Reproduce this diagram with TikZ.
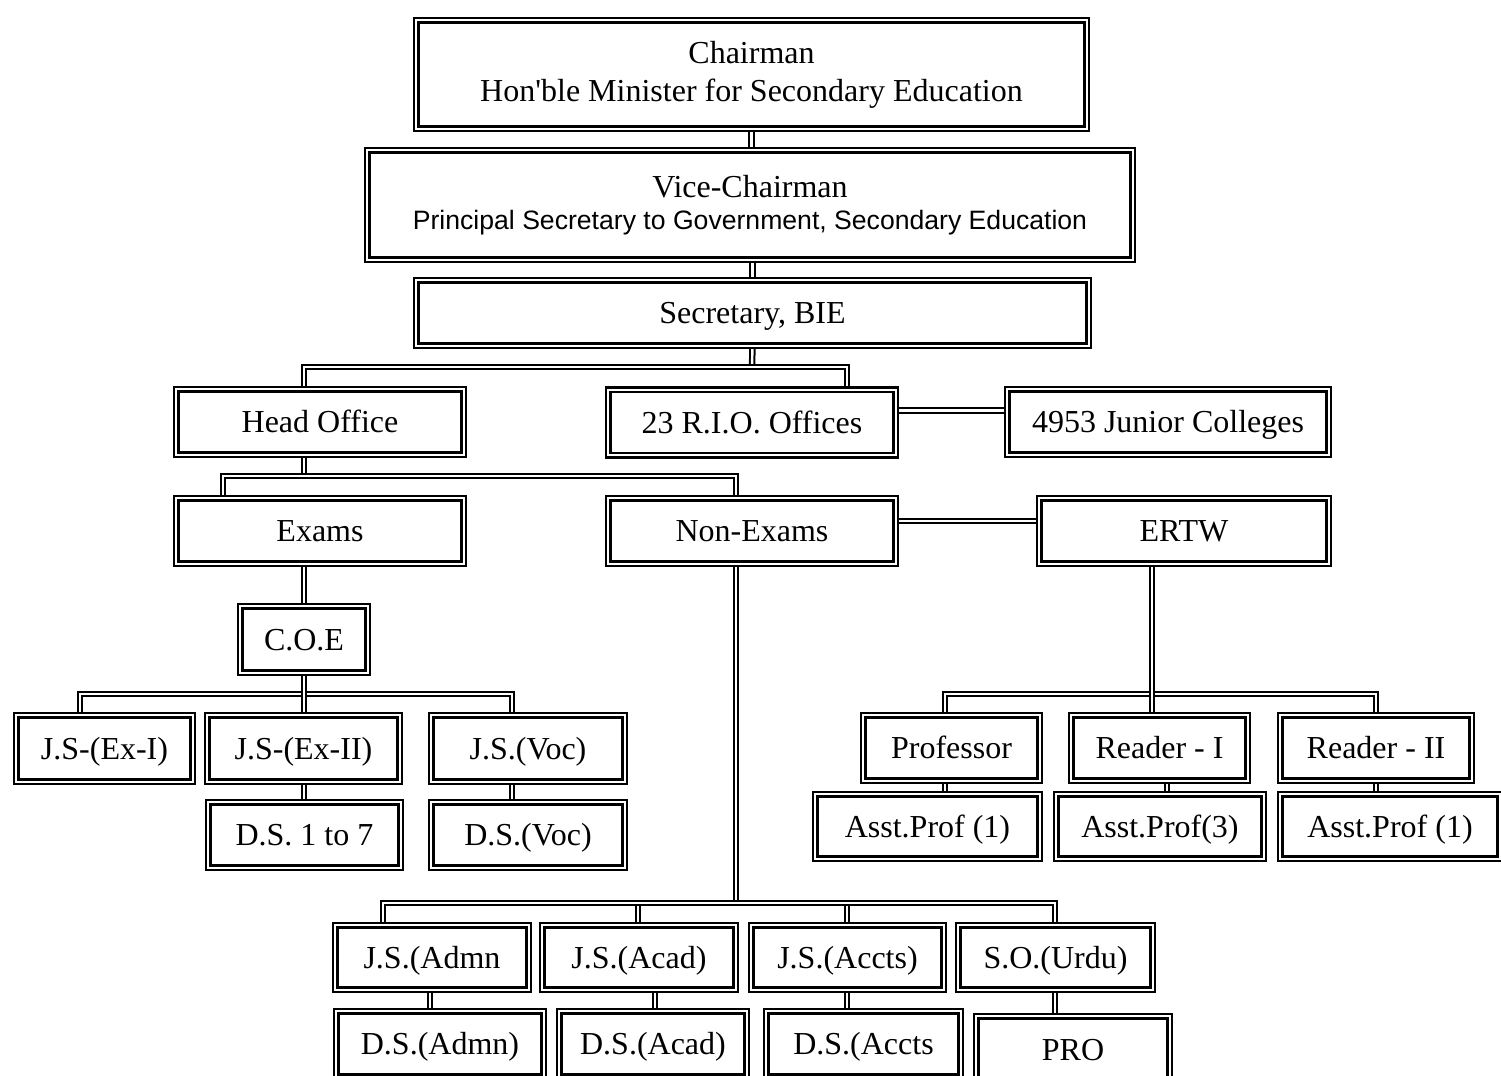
\documentclass[tikz,border=0pt]{standalone}
\usepackage{fontspec}
\setmainfont{Liberation Serif}
\newfontfamily\arialfont{Liberation Sans}
\usepackage{tikz}
\usetikzlibrary{backgrounds}

\begin{document}
\begin{tikzpicture}[line cap=round,line join=miter,x=0.5pt,y=-0.5pt,
  box/.style={draw,double,line width=1.3pt,double distance=0.9pt,inner sep=0pt,align=center,font={\fontsize{16}{19}\selectfont}},
  unit/.style={box,text height=12.5pt,text depth=2pt},
  link/.style={double,line width=1pt,double distance=1.2pt}]
\useasboundingbox (0,0) rectangle (1501,1076);
\clip (0,0) rectangle (1501,1076);
\node[box,minimum width=335.2pt,minimum height=54.2pt] (chair) at (751.5,74.5) {Chairman\\Hon\textquotesingle ble Minister for Secondary Education};
\node[box,minimum width=382.7pt,minimum height=54.7pt] (vice) at (750,205) {Vice-Chairman\\[-3pt]{\arialfont\fontsize{13.3}{16}\selectfont Principal Secretary to Government, Secondary Education}};
\node[unit,minimum width=336.2pt,minimum height=32.7pt] (sec) at (752.5,313) {Secretary, BIE};
\node[unit,minimum width=143.7pt,minimum height=32.7pt] (head) at (320,422) {Head Office};
\node[unit,minimum width=143.7pt,minimum height=32.7pt] (rio) at (752,422.5) {23 R.I.O. Offices};
\node[unit,minimum width=160.7pt,minimum height=32.7pt] (junior) at (1168,422) {4953 Junior Colleges};
\node[unit,minimum width=143.7pt,minimum height=32.7pt] (exams) at (320,531) {Exams};
\node[unit,minimum width=143.7pt,minimum height=32.7pt] (nonex) at (752,531) {Non-Exams};
\node[unit,minimum width=144.7pt,minimum height=32.7pt] (ertw) at (1184,531) {ERTW};
\node[unit,minimum width=63.7pt,minimum height=33.2pt] (coe) at (304,639.5) {C.O.E};
\node[unit,minimum width=88.2pt,minimum height=33.2pt] (jsexa) at (104.5,748.5) {J.S-(Ex-I)};
\node[unit,minimum width=96.2pt,minimum height=33.2pt] (jsexb) at (303.5,748.5) {J.S-(Ex-II)};
\node[unit,minimum width=96.7pt,minimum height=33.2pt] (jsvoc) at (528,748.5) {J.S.(Voc)};
\node[unit,minimum width=96.2pt,minimum height=32.7pt] (dsseven) at (304.5,835) {D.S. 1 to 7};
\node[unit,minimum width=96.7pt,minimum height=32.7pt] (dsvoc) at (528,835) {D.S.(Voc)};
\node[unit,minimum width=96.7pt,minimum height=32.2pt] (jsadmn) at (432,957.5) {J.S.(Admn};
\node[unit,minimum width=96.7pt,minimum height=32.2pt] (jsacad) at (639,957.5) {J.S.(Acad)};
\node[unit,minimum width=96.2pt,minimum height=32.2pt] (jsaccts) at (847.5,957.5) {J.S.(Accts)};
\node[unit,minimum width=97.2pt,minimum height=32.2pt] (sourdu) at (1055.5,957.5) {S.O.(Urdu)};
\node[unit,minimum width=103.7pt,minimum height=32.7pt] (dsadmn) at (440,1044) {D.S.(Admn)};
\node[unit,minimum width=93.7pt,minimum height=32.7pt] (dsacad) at (653,1044) {D.S.(Acad)};
\node[unit,minimum width=97.2pt,minimum height=32.7pt] (dsaccts) at (863.5,1044) {D.S.(Accts};
\node[unit,minimum width=96.7pt,minimum height=33.7pt] (pro) at (1073,1050) {PRO};
\node[unit,minimum width=88.2pt,minimum height=32.7pt] (prof) at (951.5,748) {Professor};
\node[unit,minimum width=88.2pt,minimum height=32.7pt] (reada) at (1159.5,748) {Reader - I};
\node[unit,minimum width=95.7pt,minimum height=32.7pt] (readb) at (1376,748) {Reader - II};
\node[unit,minimum width=112.2pt,minimum height=32.2pt] (apa) at (927.5,826.5) {Asst.Prof (1)};
\node[unit,minimum width=103.7pt,minimum height=32.2pt] (apb) at (1160,826.5) {Asst.Prof(3)};
\node[unit,minimum width=109.7pt,minimum height=32.2pt] (apc) at (1390,826.5) {Asst.Prof (1)};
\coordinate (rj) at ([yshift=6pt]rio.east);
\coordinate (ne) at ([yshift=5pt]nonex.east);
\begin{pgfonlayer}{background}
\draw[link] (chair.south) -- (chair.south |- vice.north);
\draw[link] (sec.north) -- (sec.north |- vice.south);
\draw[link] (sec.south) -- (752,367);
\draw[link] (head.north -| 304,0) |- (847,367) -- (rio.north -| 847,0);
\draw[link] (rj) -- (rj -| junior.west);
\draw[link] (head.south -| 304,0) -- (304,476);
\draw[link] (exams.north -| 223,0) |- (736,476) -- (nonex.north -| 736,0);
\draw[link] (ne) -- (ne -| ertw.west);
\draw[link] (exams.south -| 304,0) -- (coe.north -| 304,0);
\draw[link] (jsexa.north -| 80,0) |- (512,694) -- (jsvoc.north -| 512,0);
\draw[link] (coe.south -| 304,0) -- (jsexb.north -| 304,0);
\draw[link] (jsexb.south -| 304,0) -- (dsseven.north -| 304,0);
\draw[link] (jsvoc.south -| 512,0) -- (dsvoc.north -| 512,0);
\draw[link] (nonex.south -| 736,0) -- (736,903);
\draw[link] (jsacad.north -| 638,0) -- (638,903);
\draw[link] (jsaccts.north -| 847,0) -- (847,903);
\draw[link] (jsadmn.north -| 383,0) |- (1055,903) -- (sourdu.north -| 1055,0);
\draw[link] (jsadmn.south -| 430,0) -- (dsadmn.north -| 430,0);
\draw[link] (jsacad.south -| 655,0) -- (dsacad.north -| 655,0);
\draw[link] (jsaccts.south -| 847,0) -- (dsaccts.north -| 847,0);
\draw[link] (sourdu.south -| 1055,0) -- (pro.north -| 1055,0);
\draw[link] (prof.north -| 945,0) |- (1376,694) -- (readb.north -| 1376,0);
\draw[link] (ertw.south -| 1152,0) -- (reada.north -| 1152,0);
\draw[link] (prof.south -| 945,0) -- (apa.north -| 945,0);
\draw[link] (reada.south -| 1167,0) -- (apb.north -| 1167,0);
\draw[link] (readb.south -| 1376,0) -- (apc.north -| 1376,0);
\end{pgfonlayer}
\end{tikzpicture}
\end{document}
